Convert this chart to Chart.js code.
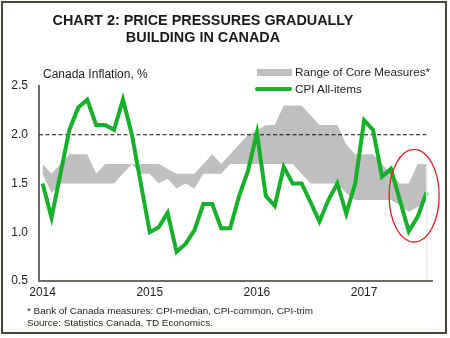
<!DOCTYPE html>
<html>
<head>
<meta charset="utf-8">
<script src="https://cdn.jsdelivr.net/npm/chart.js@4/dist/chart.umd.min.js"></script>
<style>
  html, body { margin: 0; padding: 0; background: #fff; }
  body { width: 450px; height: 338px; position: relative; overflow: hidden;
         font-family: "Liberation Sans", Arial, sans-serif; color: #1e1e1e; }
  #frame { position: absolute; left: 1px; top: 1px; width: 442px; height: 329px;
           border: 2px solid #45453a; }
  #chart { position: absolute; left: 0; top: 0; }
  .txt { position: absolute; white-space: nowrap; }
  #title { left: 0; top: 12px; width: 406px; text-align: center; font-weight: bold;
           font-size: 14.4px; line-height: 17px; color: #1a1a1a; }
  #unit { left: 43px; top: 67px; font-size: 12px; line-height: 14px; }
  .sw-band { position: absolute; left: 257px; top: 69px; width: 35px; height: 7px; background: #bfbfbf; }
  .sw-line { position: absolute; left: 255px; top: 87px; width: 37px; height: 4px; border-radius: 2px; background: #17b02b; }
  #lg1 { left: 295px; top: 65px; font-size: 11.7px; line-height: 14px; }
  #lg2 { left: 295px; top: 82px; font-size: 11.7px; line-height: 14px; }
  #note { left: 27px; top: 305px; font-size: 9.9px; line-height: 12px; }
</style>
</head>
<body>
<canvas id="chart" width="450" height="338"></canvas>
<div id="frame"></div>
<div class="txt" id="title">CHART 2: PRICE PRESSURES GRADUALLY<br>BUILDING IN CANADA</div>
<div class="txt" id="unit">Canada Inflation, %</div>
<div class="sw-band"></div>
<div class="txt" id="lg1">Range of Core Measures*</div>
<div class="sw-line"></div>
<div class="txt" id="lg2">CPI All-items</div>
<div class="txt" id="note">* Bank of Canada measures: CPI-median, CPI-common, CPI-trim<br>Source: Statistics Canada, TD Economics.</div>

<script>
// Monthly observations, Jan 2014 – Aug 2017 (y/y % change)
const years = ['2014', '2015', '2016', '2017'];
const months = [];
years.forEach(y => { for (let m = 1; m <= 12; m++) months.push(y + '-' + String(m).padStart(2, '0')); });
months.length = 44;

const cpiAllItems = [
  1.5, 1.15, 1.6, 2.05, 2.28, 2.36, 2.1, 2.1, 2.05, 2.36, 2.0, 1.5,
  1.0, 1.05, 1.2, 0.8, 0.88, 1.02, 1.29, 1.29, 1.04, 1.04, 1.37, 1.63,
  2.02, 1.37, 1.27, 1.67, 1.5, 1.5, 1.31, 1.11, 1.33, 1.5, 1.19, 1.5,
  2.15, 2.05, 1.57, 1.65, 1.33, 1.01, 1.16, 1.41
];
const coreLow = [
  1.6, 1.4, 1.5, 1.5, 1.5, 1.5, 1.5, 1.5, 1.5, 1.6, 1.7, 1.6,
  1.6, 1.5, 1.55, 1.45, 1.5, 1.45, 1.6, 1.6, 1.6, 1.7, 1.7, 1.7,
  1.7, 1.7, 1.7, 1.7, 1.7, 1.6, 1.5, 1.5, 1.5, 1.5, 1.4, 1.33,
  1.33, 1.33, 1.33, 1.33, 1.28, 1.21, 1.26, 1.32
];
const coreHigh = [
  1.7, 1.6, 1.7, 1.8, 1.8, 1.8, 1.6, 1.7, 1.7, 1.7, 1.7, 1.7,
  1.7, 1.7, 1.65, 1.6, 1.6, 1.6, 1.7, 1.8, 1.7, 1.8, 1.9, 2.0,
  2.05, 2.1, 2.1, 2.3, 2.3, 2.3, 2.2, 2.1, 2.1, 2.1, 1.9, 1.8,
  1.8, 1.8, 1.7, 1.6, 1.5, 1.5, 1.7, 1.7
];
const inflationTarget = 2.0;
const yTicks = [0.5, 1.0, 1.5, 2.0, 2.5];
const yearStartIndex = [0, 12, 24, 36];
// recent dip that the chart circles: month span and value span
const highlight = { from: 38.8, to: 44.4, low: 0.9, high: 1.85 };

const pts = arr => arr.map((v, i) => ({ x: i, y: v }));

const overlay = {
  id: 'overlay',
  afterDatasetsDraw(chart) {
    const { ctx, scales: { x, y } } = chart;
    const last = coreHigh.length - 1;
    // faint edge at the end of the core range
    ctx.save();
    ctx.strokeStyle = '#ececec';
    ctx.lineWidth = 1.5;
    ctx.beginPath();
    ctx.moveTo(x.getPixelForValue(last), y.getPixelForValue(coreHigh[last]));
    ctx.lineTo(x.getPixelForValue(last), y.getPixelForValue(0.5) - 1);
    ctx.stroke();
    ctx.restore();
  },
  afterDraw(chart) {
    const { ctx, scales: { x, y } } = chart;
    const x0 = x.getPixelForValue(highlight.from), x1 = x.getPixelForValue(highlight.to);
    const y0 = y.getPixelForValue(highlight.high), y1 = y.getPixelForValue(highlight.low);
    ctx.save();
    ctx.strokeStyle = '#e61e1e';
    ctx.lineWidth = 1.3;
    ctx.beginPath();
    ctx.ellipse((x0 + x1) / 2, (y0 + y1) / 2, (x1 - x0) / 2, (y1 - y0) / 2, 0, 0, Math.PI * 2);
    ctx.stroke();
    ctx.restore();
  }
};

new Chart(document.getElementById('chart'), {
  type: 'line',
  data: {
    datasets: [
      { label: 'CPI All-items', data: pts(cpiAllItems), borderColor: '#17b02b', borderWidth: 4,
        pointRadius: 0, tension: 0, fill: false, order: 0 },
      { label: 'target', data: [{ x: -0.4, y: inflationTarget }, { x: 43.2, y: inflationTarget }],
        borderColor: '#111', borderWidth: 1.2, borderDash: [4, 2.5], pointRadius: 0, fill: false, order: 1 },
      { label: 'core low', data: pts(coreLow), borderWidth: 0, borderColor: 'rgba(0,0,0,0)',
        pointRadius: 0, tension: 0, fill: false, order: 3 },
      { label: 'Range of Core Measures*', data: pts(coreHigh), borderWidth: 0, borderColor: 'rgba(0,0,0,0)',
        backgroundColor: '#bfbfbf', pointRadius: 0, tension: 0, fill: '-1', order: 2 }
    ]
  },
  options: {
    responsive: false,
    animation: false,
    devicePixelRatio: 1,
    layout: { padding: { top: 86, right: 18, left: 0, bottom: 0 } },
    plugins: { legend: { display: false }, tooltip: { enabled: false } },
    scales: {
      x: {
        type: 'linear', min: -0.4, max: 43.6,
        afterBuildTicks: s => { s.ticks = yearStartIndex.map(v => ({ value: v })); },
        afterFit: s => { s.height = 57; },
        ticks: { callback: v => years[yearStartIndex.indexOf(v)], padding: 4, maxRotation: 0,
                 autoSkip: false, color: '#1e1e1e', font: { family: 'Liberation Sans', size: 12 } },
        grid: { display: false, drawTicks: false },
        border: { display: true, color: '#6c6c62', width: 2 }
      },
      y: {
        min: 0.5, max: 2.5,
        afterBuildTicks: s => { s.ticks = yTicks.map(v => ({ value: v })); },
        afterFit: s => { s.width = 39; },
        ticks: { callback: v => v.toFixed(1), padding: 11, color: '#1e1e1e',
                 font: { family: 'Liberation Sans', size: 12 } },
        grid: { display: false, drawTicks: false },
        border: { display: true, color: '#6c6c62', width: 2 }
      }
    }
  },
  plugins: [overlay]
});
</script>
</body>
</html>
